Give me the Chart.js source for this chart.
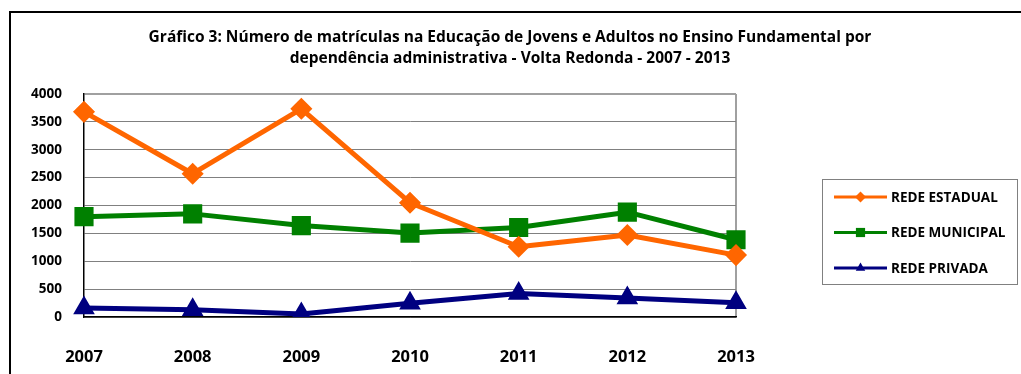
<!DOCTYPE html>
<html lang="pt">
<head>
    <meta charset="UTF-8">
    <title>Matrículas EJA - Volta Redonda</title>
    <script src="https://cdn.jsdelivr.net/npm/chart.js"></script>
    <style>
        html, body { margin: 0; padding: 0; background: #fff; overflow: hidden; }
        #frame {
            position: absolute; left: 9px; top: 11px; width: 1100px; height: 400px;
            border-left: 2px solid #000; border-top: 2px solid #000;
        }
        #chart { position: absolute; left: 0; top: 0; }
    </style>
</head>
<body>
    <div id="frame"></div>
    <canvas id="chart" width="1021" height="374"></canvas>

    <script>
        const anos = ['2007', '2008', '2009', '2010', '2011', '2012', '2013'];
        const redeEstadual = [3680, 2570, 3735, 2050, 1260, 1470, 1110];
        const redeMunicipal = [1800, 1850, 1640, 1505, 1605, 1880, 1385];
        const redePrivada = [160, 130, 55, 245, 420, 340, 255];
        const titulo = [
            'Gráfico 3: Número de matrículas na Educação de Jovens e Adultos no Ensino Fundamental por',
            'dependência administrativa - Volta Redonda - 2007 - 2013'
        ];

        const fonte = '"Open Sans", "Liberation Sans", sans-serif';

        // título e legenda desenhados à mão (legenda com caixa à direita)
        const extras = {
            id: 'extras',
            afterDraw(chart) {
                const ctx = chart.ctx;
                ctx.save();
                ctx.fillStyle = '#000';
                ctx.font = 'bold 15.5px ' + fonte;
                ctx.textAlign = 'center';
                ctx.textBaseline = 'middle';
                ctx.fillText(titulo[0], 510, 38);
                ctx.fillText(titulo[1], 510, 59);

                // caixa da legenda
                ctx.strokeStyle = '#808080';
                ctx.lineWidth = 1;
                ctx.strokeRect(822.5, 179.5, 195, 105);

                ctx.textAlign = 'left';
                ctx.font = 'bold 13.5px ' + fonte;
                chart.data.datasets.forEach((ds, i) => {
                    const y = 197 + i * 35.5;
                    ctx.strokeStyle = ds.borderColor;
                    ctx.lineWidth = 3;
                    ctx.beginPath();
                    ctx.moveTo(834, y);
                    ctx.lineTo(887, y);
                    ctx.stroke();
                    ctx.fillStyle = ds.borderColor;
                    Chart.helpers.drawPoint(ctx, {
                        pointStyle: ds.pointStyle,
                        radius: ds.legendRadius,
                        rotation: 0,
                        borderWidth: 0
                    }, 860.5, y);
                    ctx.fillStyle = '#000';
                    ctx.fillText(ds.label, 891, y + 1);
                });
                ctx.restore();
            }
        };

        new Chart(document.getElementById('chart'), {
            type: 'line',
            data: {
                labels: anos,
                datasets: [
                    {
                        label: 'REDE ESTADUAL',
                        data: redeEstadual,
                        borderColor: '#FF6600',
                        backgroundColor: '#FF6600',
                        borderWidth: 5,
                        pointStyle: 'rectRot',
                        pointRadius: 7.5,
                        legendRadius: 5.5,
                        order: 1
                    },
                    {
                        label: 'REDE MUNICIPAL',
                        data: redeMunicipal,
                        borderColor: '#008000',
                        backgroundColor: '#008000',
                        borderWidth: 5,
                        pointStyle: 'rect',
                        pointRadius: 10,
                        legendRadius: 6.5,
                        order: 2
                    },
                    {
                        label: 'REDE PRIVADA',
                        data: redePrivada,
                        borderColor: '#000080',
                        backgroundColor: '#000080',
                        borderWidth: 5,
                        pointStyle: 'triangle',
                        pointRadius: 7.5,
                        legendRadius: 5.5,
                        order: 3
                    }
                ]
            },
            options: {
                responsive: false,
                animation: false,
                events: [],
                layout: { padding: { left: 0, top: 94, right: 285, bottom: 0 } },
                elements: {
                    line: { tension: 0, borderCapStyle: 'round', borderJoinStyle: 'round' },
                    point: { borderWidth: 0 }
                },
                plugins: {
                    legend: { display: false },
                    title: { display: false },
                    tooltip: { enabled: false }
                },
                scales: {
                    x: {
                        offset: false,
                        afterFit(axis) { axis.height = 57; },
                        grid: {
                            drawTicks: false,
                            color: ctx => ctx.index === anos.length - 1 ? '#a0a0a0' : 'rgba(0,0,0,0)',
                            lineWidth: ctx => ctx.index === anos.length - 1 ? 2 : 1
                        },
                        border: { color: '#000', width: 1.5 },
                        ticks: {
                            color: '#000',
                            padding: 30,
                            font: { family: fonte, size: 16.5, weight: 'bold' }
                        }
                    },
                    y: {
                        min: 0,
                        max: 4000,
                        afterFit(axis) { axis.width = 84; },
                        grid: {
                            drawTicks: false,
                            color: ctx => ctx.tick.value === 4000 ? '#a0a0a0' : '#808080',
                            lineWidth: ctx => ctx.tick.value === 4000 ? 2 : 1
                        },
                        border: { color: '#000', width: 1.5 },
                        ticks: {
                            stepSize: 500,
                            color: '#000',
                            padding: 22,
                            callback: v => String(v),
                            font: { family: fonte, size: 13.5, weight: 'bold' }
                        }
                    }
                }
            },
            plugins: [extras]
        });
    </script>
</body>
</html>
